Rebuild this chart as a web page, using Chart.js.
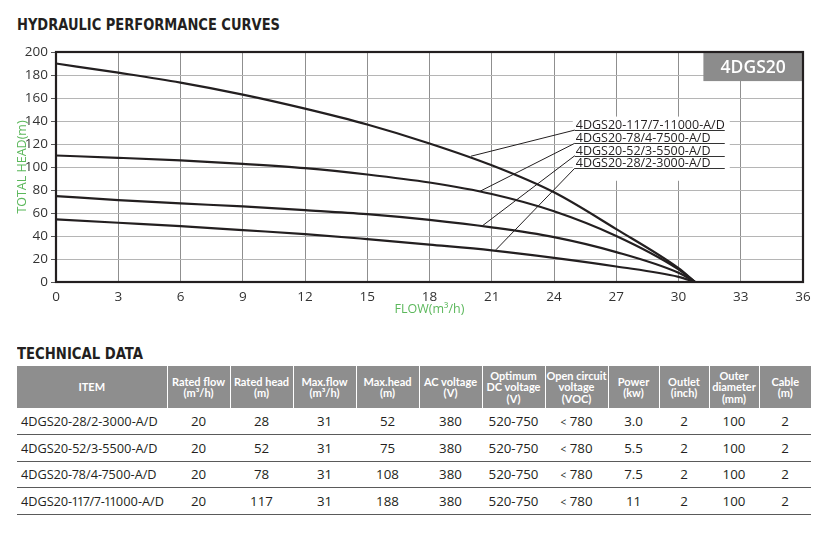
<!DOCTYPE html>
<html><head><meta charset="utf-8">
<script src="https://cdn.jsdelivr.net/npm/chart.js@4.4.1/dist/chart.umd.min.js"></script>
<style>
html,body{margin:0;padding:0;background:#fff;}
body{width:830px;height:541px;position:relative;overflow:hidden;font-family:"Open Sans",sans-serif;}
.h{position:absolute;left:17px;font-family:"Liberation Sans Narrow","DejaVu Sans Condensed",sans-serif;font-weight:bold;font-size:16px;line-height:16px;color:#231f20;white-space:nowrap;transform-origin:0 0;}
#wrap{position:absolute;left:0;top:0;width:830px;height:330px;}
table{position:absolute;left:17px;top:366px;border-collapse:collapse;table-layout:fixed;width:794px;}
th{background:#8e8e8e;color:#fff;font-family:Lato,sans-serif;font-weight:bold;font-size:11px;line-height:11.5px;height:42px;padding:0;border-left:1px solid #fff;text-align:center;vertical-align:middle;}
th:first-child{border-left:none;}
td{height:25.75px;padding:0;text-align:center;font-size:13.3px;color:#231f20;border-bottom:1.5px solid #5a5a5a;vertical-align:middle;white-space:nowrap;overflow:visible;}
td:first-child{text-align:left;padding-left:4px;font-size:12.7px;font-variant-numeric:proportional-nums;}
.lt{font-size:10px;}
</style>
</head>
<body>
<div class="h" id="t1" style="top:16.5px">HYDRAULIC PERFORMANCE CURVES</div>
<div id="wrap"><canvas id="c" width="830" height="330"></canvas></div>
<div class="h" id="t2" style="top:345.5px">TECHNICAL DATA</div>
<table id="tbl"></table>
<script>
// ---- chart data ----
const flowRate   = [0, 3, 6, 9, 12, 15, 18, 21, 24, 27, 30, 30.8];
const head117_7  = [190, 182, 173.4, 163, 150.8, 137, 120.5, 101.5, 78, 46, 12, 0];
const head78_4   = [110, 108, 105.7, 102.7, 99, 93.5, 86.5, 76.5, 61.5, 40, 11, 0];
const head52_3   = [74.7, 71.2, 68.3, 65.7, 62.5, 59, 54, 47.5, 39, 26, 8, 0];
const head28_2   = [54.4, 51.5, 48.6, 45.1, 41.7, 37.3, 32.5, 27.5, 21, 13.5, 4.5, 0];
const curveNames = ['4DGS20-117/7-11000-A/D', '4DGS20-78/4-7500-A/D', '4DGS20-52/3-5500-A/D', '4DGS20-28/2-3000-A/D'];
const labelFlow  = 25;
const labelHead  = [132.1, 120.6, 109.8, 98.9];
const pointFlow  = [20.0, 20.4, 20.55, 21.2];
const pointHead  = [109.4, 78.6, 48.9, 28];
const seriesTag  = '4DGS20';
const xTickStep = 3, xMax = 36, yTickStep = 20, yMax = 200;

// ---- table data ----
const tableHeaders = ['ITEM', 'Rated flow<br>(m³/h)', 'Rated head<br>(m)', 'Max.flow<br>(m³/h)', 'Max.head<br>(m)', 'AC voltage<br>(V)', 'Optimum<br>DC voltage<br>(V)', 'Open circuit<br>voltage<br>(VOC)', 'Power<br>(kw)', 'Outlet<br>(inch)', 'Outer<br>diameter<br>(mm)', 'Cable<br>(m)'];
const items      = ['4DGS20-28/2-3000-A/D', '4DGS20-52/3-5500-A/D', '4DGS20-78/4-7500-A/D', '4DGS20-117/7-11000-A/D'];
const ratedFlow  = [20, 20, 20, 20];
const ratedHead  = [28, 52, 78, 117];
const maxFlow    = [31, 31, 31, 31];
const maxHead    = [52, 75, 108, 188];
const acVoltage  = [380, 380, 380, 380];
const dcVoltage  = ['520-750', '520-750', '520-750', '520-750'];
const vocVoltage = ['780', '780', '780', '780'];
const power      = ['3.0', '5.5', '7.5', '11'];
const outlet     = [2, 2, 2, 2];
const outerDia   = [100, 100, 100, 100];
const cable      = [2, 2, 2, 2];

// build table
(function(){
  const widths = [150,63,63,63,63,63,63,63,51,50,50,52];
  let html = '<colgroup>' + widths.map(w=>'<col style="width:'+w+'px">').join('') + '</colgroup>';
  html += '<tr>' + tableHeaders.map(h=>'<th>'+h+'</th>').join('') + '</tr>';
  for (let i=0;i<items.length;i++){
    html += '<tr><td>'+items[i]+'</td><td>'+ratedFlow[i]+'</td><td>'+ratedHead[i]+'</td><td>'+maxFlow[i]+'</td><td>'+maxHead[i]+'</td><td>'+acVoltage[i]+'</td><td>'+dcVoltage[i]+'</td><td><span class="lt">&lt;</span> '+vocVoltage[i]+'</td><td>'+power[i]+'</td><td>'+outlet[i]+'</td><td>'+outerDia[i]+'</td><td>'+cable[i]+'</td></tr>';
  }
  document.getElementById('tbl').innerHTML = html;
})();

// fit headings to width
function fitW(id, w){ const el=document.getElementById(id); const r=el.getBoundingClientRect().width; el.style.transform='scaleX('+(w/r)+')'; }
fitW('t1', 263); fitW('t2', 126);

const DARK = '#231f20';
const toPts = (xs, ys) => xs.map((v,i)=>({x:v, y:ys[i]}));
const curves = [head117_7, head78_4, head52_3, head28_2];
const datasets = curves.map((c,i)=>({
  label: curveNames[i], data: toPts(flowRate, c), borderColor: DARK, borderWidth: 2.2,
  pointRadius: 0, cubicInterpolationMode: 'monotone', fill: false
}));
labelHead.forEach((h,i)=>{
  datasets.push({label: 'leader'+i, data: [{x: labelFlow, y: h}, {x: pointFlow[i], y: pointHead[i]}],
    borderColor: DARK, borderWidth: 1, pointRadius: 0, tension: 0, fill: false});
});

const decor = {
  id: 'decor',
  beforeDatasetsDraw(chart){
    const {ctx, chartArea: a, scales: {x, y}} = chart;
    ctx.save();
    const lx = x.getPixelForValue(labelFlow);
    const ly0 = y.getPixelForValue(labelHead[0]);
    const ly3 = y.getPixelForValue(labelHead[3]);
    ctx.fillStyle = '#fff';
    ctx.fillRect(lx - 2, ly0 - 13.5, 157, ly3 - ly0 + 26);
    const bx = x.getPixelForValue(31.2), by = y.getPixelForValue(174.7);
    ctx.fillStyle = '#8c8c8c';
    ctx.fillRect(bx, a.top, a.right - bx, by - a.top);
    ctx.fillStyle = '#fff';
    ctx.font = '600 17.5px "Open Sans"';
    ctx.textAlign = 'center'; ctx.textBaseline = 'middle';
    ctx.fillText(seriesTag, (bx + a.right)/2, (a.top + by)/2 + 1);
    ctx.restore();
  },
  afterDatasetsDraw(chart){
    const {ctx, chartArea: a, scales: {x, y}} = chart;
    ctx.save();
    const lx = x.getPixelForValue(labelFlow);
    ctx.font = '12.5px "Open Sans"';
    const w0 = ctx.measureText(curveNames[0]).width;
    const sx = 149 / w0;
    labelHead.forEach((h,i)=>{
      const ly = Math.round(y.getPixelForValue(h)) + 0.5;
      ctx.strokeStyle = '#333'; ctx.lineWidth = 1;
      ctx.beginPath(); ctx.moveTo(lx, ly); ctx.lineTo(lx + 150, ly); ctx.stroke();
      ctx.save();
      ctx.translate(lx + 1, ly - 1.5);
      ctx.scale(sx, 1);
      ctx.fillStyle = DARK; ctx.textAlign = 'left'; ctx.textBaseline = 'alphabetic';
      ctx.fillText(curveNames[i], 0, 0);
      ctx.restore();
    });
    ctx.strokeStyle = DARK; ctx.lineWidth = 2.2;
    ctx.strokeRect(a.left, a.top, a.right - a.left, a.bottom - a.top);
    ctx.restore();
  }
};

new Chart(document.getElementById('c'), {
  type: 'line',
  data: { datasets },
  options: {
    responsive: false, animation: false, events: [],
    layout: { padding: { left: 0, right: 27, top: 52, bottom: 0 } },
    plugins: { legend: { display: false }, tooltip: { enabled: false } },
    scales: {
      x: {
        type: 'linear', min: 0, max: xMax,
        ticks: { stepSize: xTickStep, color: '#333', font: { family: 'Open Sans', size: 13.5 }, padding: 7, maxRotation: 0 },
        grid: { color: '#8f8f8f', lineWidth: 1, drawTicks: false },
        border: { display: false },
        title: { display: true, text: 'FLOW(m³/h)', color: '#5cb85c', font: { family: 'Open Sans', size: 12.5 }, padding: { top: 0, bottom: 13 } },
        afterFit(s){ s.height = 48; }
      },
      y: {
        type: 'linear', min: 0, max: yMax,
        ticks: { stepSize: yTickStep, color: '#333', font: { family: 'Open Sans', size: 13.5 }, padding: 3 },
        grid: { color: '#b5b5b5', lineWidth: 1, tickLength: 5, tickColor: '#555' },
        border: { display: false },
        title: { display: true, text: 'TOTAL HEAD(m)', color: '#5cb85c', font: { family: 'Open Sans', size: 12.5 }, padding: { top: 14.5, bottom: 0 } },
        afterFit(s){ s.width = 56; }
      }
    }
  },
  plugins: [decor]
});
</script>
</body></html>
